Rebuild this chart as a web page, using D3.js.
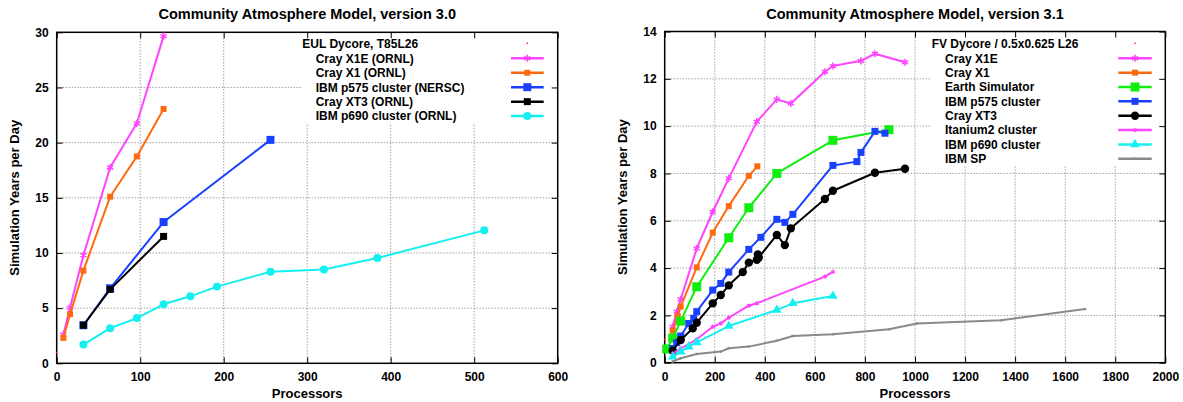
<!DOCTYPE html>
<html>
<head>
<meta charset="UTF-8">
<style>
  body { margin: 0; background: #fff; }
  svg text { font-family: "Liberation Sans", Arial, Helvetica, sans-serif; font-weight: bold; fill: #000; }
</style>
</head>
<body>
<svg id="chart" width="1183" height="402"></svg>
<script src="https://d3js.org/d3.v7.min.js"></script>
<script>
// ---- CAM 3.0, EUL dycore (left panel) ----
const v30Names = ["Cray X1E (ORNL)", "Cray X1 (ORNL)", "IBM p575 cluster (NERSC)", "Cray XT3 (ORNL)", "IBM p690 cluster (ORNL)"];
const v30X1eProcs = [8, 16, 32, 64, 96, 128];
const v30X1eYears = [2.6, 5.05, 9.8, 17.75, 21.75, 29.65];
const v30X1Procs = [8, 16, 32, 64, 96, 128];
const v30X1Years = [2.3, 4.45, 8.4, 15.1, 18.75, 23.05];
const v30P575Procs = [32, 64, 128, 256];
const v30P575Years = [3.45, 6.8, 12.8, 20.25];
const v30Xt3Procs = [32, 64, 128];
const v30Xt3Years = [3.45, 6.7, 11.5];
const v30P690Procs = [32, 64, 96, 128, 160, 192, 256, 320, 384, 512];
const v30P690Years = [1.7, 3.18, 4.1, 5.35, 6.07, 6.95, 8.3, 8.5, 9.55, 12.05];
const v30XTicks = [0, 100, 200, 300, 400, 500, 600];
const v30YTicks = [0, 5, 10, 15, 20, 25, 30];

// ---- CAM 3.1, FV dycore (right panel) ----
const v31Names = ["Cray X1E", "Cray X1", "Earth Simulator", "IBM p575 cluster", "Cray XT3", "Itanium2 cluster", "IBM p690 cluster", "IBM SP"];
const v31X1eProcs = [32, 48, 64, 128, 192, 256, 368, 448, 504, 640, 672, 784, 840, 960];
const v31X1eYears = [1.52, 2.16, 2.68, 4.83, 6.38, 7.79, 10.19, 11.13, 10.96, 12.3, 12.54, 12.76, 13.06, 12.7];
const v31X1Procs = [32, 52, 64, 128, 192, 256, 336, 370];
const v31X1Years = [1.35, 1.97, 2.37, 4.03, 5.5, 6.62, 7.9, 8.3];
const v31EsProcs = [8, 32, 64, 128, 256, 336, 448, 672, 896];
const v31EsYears = [0.58, 1.04, 1.76, 3.21, 5.28, 6.55, 8.0, 9.4, 9.85];
const v31P575Procs = [32, 48, 64, 96, 116, 128, 192, 224, 256, 336, 384, 448, 480, 512, 672, 768, 784, 840, 880];
const v31P575Years = [0.6, 0.85, 1.13, 1.66, 1.88, 2.16, 3.07, 3.35, 3.83, 4.79, 5.3, 6.06, 5.93, 6.27, 8.34, 8.5, 8.89, 9.78, 9.7];
const v31Xt3Procs = [32, 64, 112, 128, 192, 224, 256, 312, 336, 368, 372, 376, 448, 480, 504, 640, 672, 840, 960];
const v31Xt3Years = [0.51, 0.96, 1.45, 1.69, 2.51, 2.86, 3.27, 3.83, 4.23, 4.35, 4.58, 4.45, 5.4, 4.97, 5.68, 6.92, 7.27, 8.03, 8.2];
const v31ItanProcs = [32, 64, 128, 192, 224, 256, 336, 368, 640, 672];
const v31ItanYears = [0.38, 0.6, 0.99, 1.52, 1.66, 1.9, 2.41, 2.51, 3.64, 3.84];
const v31P690Procs = [32, 64, 96, 128, 256, 448, 512, 672];
const v31P690Years = [0.25, 0.46, 0.68, 0.86, 1.55, 2.23, 2.51, 2.82];
const v31SpProcs = [32, 64, 128, 224, 256, 336, 448, 512, 672, 896, 1008, 1344, 1680];
const v31SpYears = [0.05, 0.19, 0.37, 0.47, 0.61, 0.68, 0.93, 1.13, 1.2, 1.41, 1.66, 1.79, 2.27];
const v31XTicks = [0, 200, 400, 600, 800, 1000, 1200, 1400, 1600, 1800, 2000];
const v31YTicks = [0, 2, 4, 6, 8, 10, 12, 14];

const svg = d3.select("#chart");

function zip(p, v) { return p.map((d, i) => [d, v[i]]); }

function drawPanel(o) {
  const g = svg.append("g");
  const x = d3.scaleLinear().domain(o.xDomain).range([o.left, o.right]);
  const y = d3.scaleLinear().domain(o.yDomain).range([o.bottom, o.top]);

  // dotted grid
  g.selectAll(".vg").data(o.xTicks.slice(1, -1)).enter().append("line")
    .attr("x1", d => x(d)).attr("x2", d => x(d))
    .attr("y1", o.top).attr("y2", o.bottom)
    .attr("stroke", "#777").attr("stroke-width", 1).attr("stroke-dasharray", "1,2");
  g.selectAll(".hg").data(o.yTicks.slice(1, -1)).enter().append("line")
    .attr("x1", o.left).attr("x2", o.right)
    .attr("y1", d => y(d)).attr("y2", d => y(d))
    .attr("stroke", "#777").attr("stroke-width", 1).attr("stroke-dasharray", "1,2");

  // key background hides grid
  g.append("rect")
    .attr("x", o.key.x0).attr("y", o.top)
    .attr("width", o.right - o.key.x0).attr("height", o.key.y1 - o.top)
    .attr("fill", "#fff");

  // axes (ticks point inward, mirrored)
  const styleAx = a => { a.select(".domain").remove(); a.selectAll("line").attr("stroke", "#000"); a.selectAll("text").attr("font-size", "12px").attr("font-family", null); };
  g.append("g").attr("transform", `translate(0,${o.bottom})`)
    .call(d3.axisBottom(x).tickValues(o.xTicks).tickSize(-6).tickPadding(9.5).tickFormat(d3.format("d")))
    .call(styleAx);
  g.append("g").attr("transform", `translate(${o.left},0)`)
    .call(d3.axisLeft(y).tickValues(o.yTicks).tickSize(-6).tickPadding(8).tickFormat(d3.format("d")))
    .call(styleAx);
  g.append("g").attr("transform", `translate(0,${o.top})`)
    .call(d3.axisTop(x).tickValues(o.xTicks).tickSize(-6).tickFormat(""))
    .call(styleAx);
  g.append("g").attr("transform", `translate(${o.right},0)`)
    .call(d3.axisRight(y).tickValues(o.yTicks).tickSize(-6).tickFormat(""))
    .call(styleAx);
  g.selectAll(".tick text").attr("font-family", null);

  // border
  g.append("rect").attr("x", o.left).attr("y", o.top)
    .attr("width", o.right - o.left).attr("height", o.bottom - o.top)
    .attr("fill", "none").attr("stroke", "#000").attr("stroke-width", 1.5);

  // titles
  const cx = (o.left + o.right) / 2;
  g.append("text").attr("x", cx).attr("y", 18.5).attr("text-anchor", "middle")
    .attr("font-size", "14.5px").text(o.title);
  g.append("text").attr("x", cx).attr("y", 398).attr("text-anchor", "middle")
    .attr("font-size", "13px").text("Processors");
  g.append("text").attr("transform", `translate(${o.yLabelX},${(o.top + o.bottom) / 2}) rotate(-90)`)
    .attr("text-anchor", "middle").attr("dy", "0.35em")
    .attr("font-size", "13px").text("Simulation Years per Day");

  const line = d3.line().x(d => x(d[0])).y(d => y(d[1]));

  // dummy key-title point at (0,1)
  g.append("rect").attr("x", x(0) - 0.5).attr("y", y(1) - 0.5).attr("width", 1.5).attr("height", 1.5).attr("fill", "#f33");

  const mark = (sel, s, cxp, cyp) => {
    const sym = d3.symbol().type(s.shape).size(s.size);
    const p = sel.append("path").attr("d", sym()).attr("transform", `translate(${cxp},${cyp})`);
    if (s.shape === d3.symbolAsterisk || s.shape === d3.symbolCross && s.open) {
      p.attr("fill", "none").attr("stroke", s.color).attr("stroke-width", s.sw || 1.5);
    } else {
      p.attr("fill", s.color);
    }
  };

  o.series.forEach(s => {
    const pts = zip(s.procs, s.years);
    g.append("path").datum(pts).attr("d", line)
      .attr("fill", "none").attr("stroke", s.color).attr("stroke-width", s.lw || 2)
      .attr("stroke-linejoin", "round");
    const mg = g.append("g");
    pts.forEach(d => mark(mg, s, x(d[0]), y(d[1])));
  });

  // key
  const k = o.key;
  g.append("text").attr("x", k.headerX).attr("y", k.headerY + 4.3).attr("font-size", "12px").text(k.header);
  g.append("rect").attr("x", k.mark - 0.75).attr("y", k.headerY - 0.75).attr("width", 1.5).attr("height", 1.5).attr("fill", "#f33");
  o.series.forEach((s, i) => {
    const ky = k.y0 + i * k.step;
    g.append("text").attr("x", k.textX).attr("y", ky + 4.3).attr("font-size", "12px").text(o.names[i]);
    g.append("line").attr("x1", k.l0).attr("x2", k.l1).attr("y1", ky).attr("y2", ky)
      .attr("stroke", s.color).attr("stroke-width", 2.5);
    mark(g, s, k.mark, ky);
  });
}

const magenta = "#ff44ff", orange = "#ff6a10", blue = "#1a40ff", cyan = "#14f0f0", green = "#10ee10", gray = "#8a8a8a";

drawPanel({
  title: "Community Atmosphere Model, version 3.0",
  left: 56.7, right: 557.7, top: 32.3, bottom: 363.3, yLabelX: 14,
  xDomain: [0, 600], yDomain: [0, 30], xTicks: v30XTicks, yTicks: v30YTicks,
  names: v30Names,
  key: { x0: 301, y1: 123, header: "EUL Dycore, T85L26", headerX: 302.3, headerY: 43.3, textX: 315.7, y0: 58.3, step: 14.45, l0: 511, l1: 543.7, mark: 527.3 },
  series: [
    { procs: v30X1eProcs, years: v30X1eYears, color: magenta, shape: d3.symbolAsterisk, size: 35 },
    { procs: v30X1Procs, years: v30X1Years, color: orange, shape: d3.symbolSquare, size: 36 },
    { procs: v30P575Procs, years: v30P575Years, color: blue, shape: d3.symbolSquare, size: 64 },
    { procs: v30Xt3Procs, years: v30Xt3Years, color: "#000", shape: d3.symbolSquare, size: 49 },
    { procs: v30P690Procs, years: v30P690Years, color: cyan, shape: d3.symbolCircle, size: 50 }
  ]
});

drawPanel({
  title: "Community Atmosphere Model, version 3.1",
  left: 664.7, right: 1165.3, top: 31.5, bottom: 362.7, yLabelX: 622,
  xDomain: [0, 2000], yDomain: [0, 14], xTicks: v31XTicks, yTicks: v31YTicks,
  names: v31Names,
  key: { x0: 931, y1: 166, header: "FV Dycore / 0.5x0.625 L26", headerX: 931.7, headerY: 43.3, textX: 945, y0: 58.3, step: 14.35, l0: 1118.3, l1: 1151.7, mark: 1135 },
  series: [
    { procs: v31X1eProcs, years: v31X1eYears, color: magenta, shape: d3.symbolAsterisk, size: 35 },
    { procs: v31X1Procs, years: v31X1Years, color: orange, shape: d3.symbolSquare, size: 36 },
    { procs: v31EsProcs, years: v31EsYears, color: green, shape: d3.symbolSquare, size: 81 },
    { procs: v31P575Procs, years: v31P575Years, color: blue, shape: d3.symbolSquare, size: 49 },
    { procs: v31Xt3Procs, years: v31Xt3Years, color: "#000", shape: d3.symbolCircle, size: 55 },
    { procs: v31ItanProcs, years: v31ItanYears, color: magenta, shape: d3.symbolAsterisk, size: 14, sw: 1.2 },
    { procs: v31P690Procs, years: v31P690Years, color: cyan, shape: d3.symbolTriangle, size: 40 },
    { procs: v31SpProcs, years: v31SpYears, color: gray, shape: d3.symbolAsterisk, size: 5, sw: 1 }
  ]
});
</script>
</body>
</html>
